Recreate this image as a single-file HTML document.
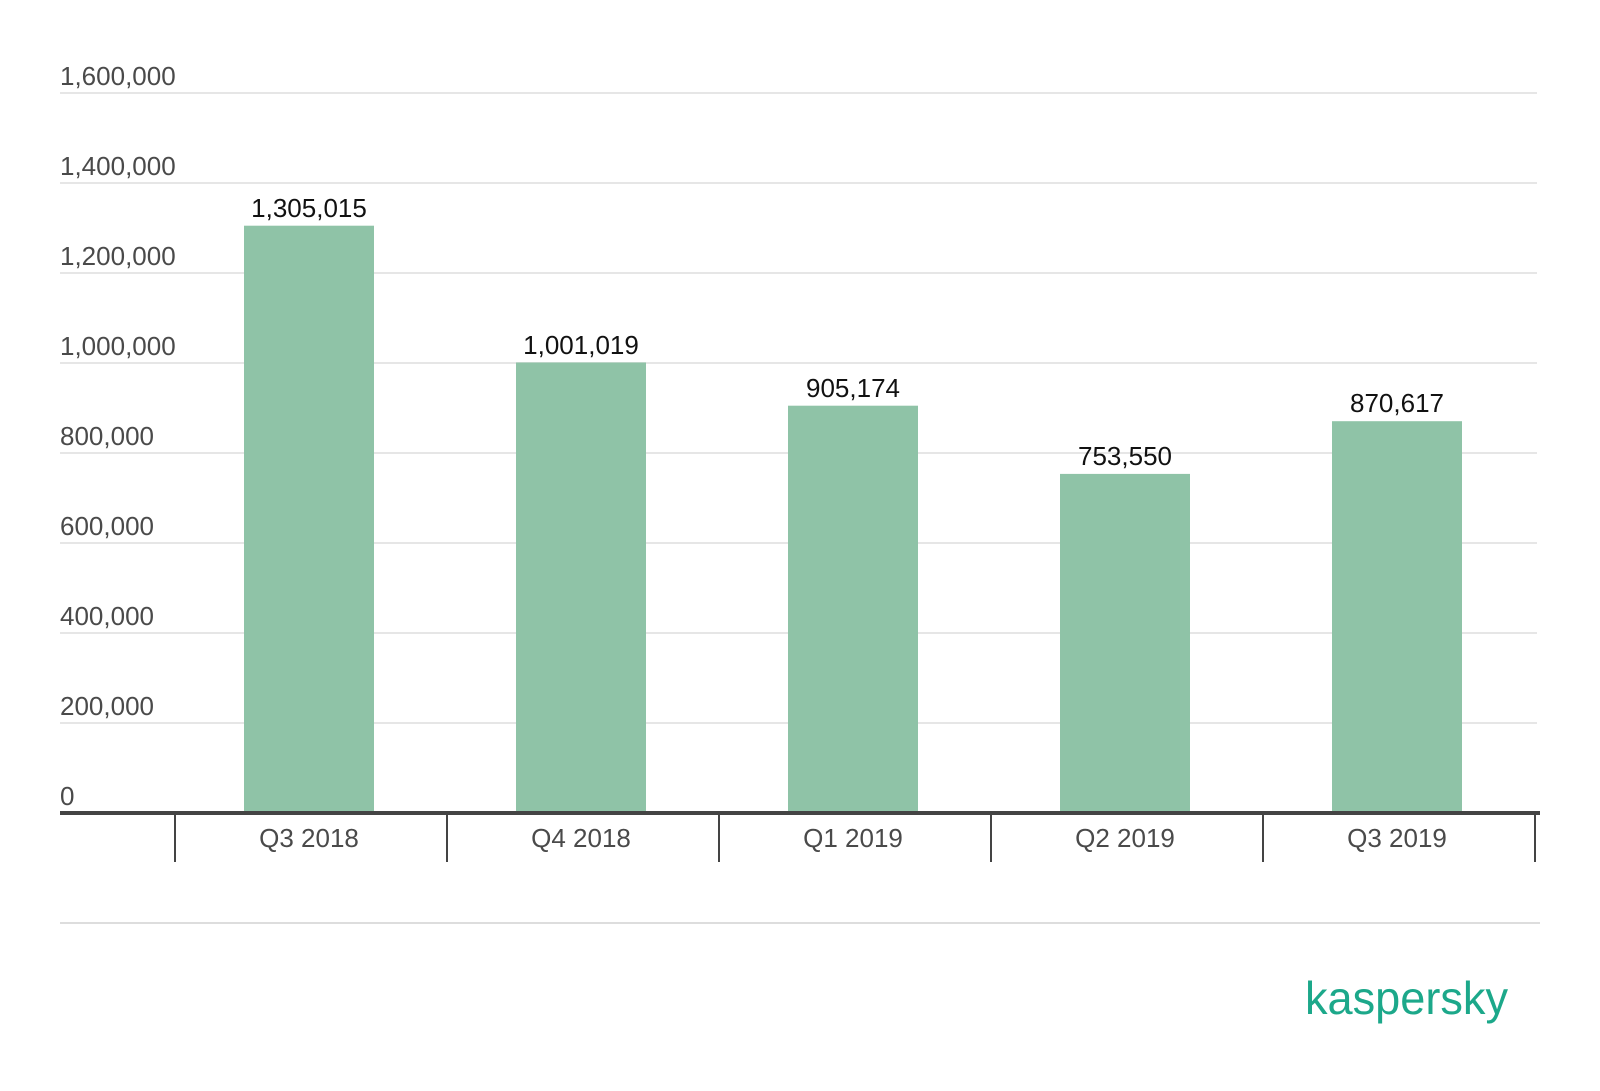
<!DOCTYPE html>
<html><head><meta charset="utf-8"><style>
body{margin:0;background:#fff;}
svg text{font-family:"Liberation Sans",Arial,sans-serif;}
</style></head><body>
<svg width="1600" height="1086" viewBox="0 0 1600 1086" xmlns="http://www.w3.org/2000/svg">
<g stroke="#e6e6e6" stroke-width="2">
<line x1="60" x2="1537" y1="93" y2="93"/><line x1="60" x2="1537" y1="183" y2="183"/>
<line x1="60" x2="1537" y1="273" y2="273"/><line x1="60" x2="1537" y1="363" y2="363"/>
<line x1="60" x2="1537" y1="453" y2="453"/><line x1="60" x2="1537" y1="543" y2="543"/>
<line x1="60" x2="1537" y1="633" y2="633"/><line x1="60" x2="1537" y1="723" y2="723"/>
</g>
<g fill="#4a4a4a" font-size="26">
<text x="60" y="85">1,600,000</text><text x="60" y="175">1,400,000</text>
<text x="60" y="265">1,200,000</text><text x="60" y="355">1,000,000</text>
<text x="60" y="445">800,000</text><text x="60" y="535">600,000</text>
<text x="60" y="625">400,000</text><text x="60" y="715">200,000</text>
<text x="60" y="805">0</text>
</g>
<g fill="#8fc3a7">
<rect x="244" y="225.7" width="130" height="587.3"/>
<rect x="516" y="362.5" width="130" height="450.5"/>
<rect x="788" y="405.7" width="130" height="407.3"/>
<rect x="1060" y="473.9" width="130" height="339.1"/>
<rect x="1332" y="421.2" width="130" height="391.8"/>
</g>
<g fill="#111" font-size="26" text-anchor="middle">
<text x="309" y="217">1,305,015</text><text x="581" y="354">1,001,019</text>
<text x="853" y="397">905,174</text><text x="1125" y="465">753,550</text>
<text x="1397" y="412">870,617</text>
</g>
<line x1="60" x2="1540" y1="813" y2="813" stroke="#444" stroke-width="4"/>
<g stroke="#444" stroke-width="2">
<line x1="175" x2="175" y1="813" y2="862"/><line x1="447" x2="447" y1="813" y2="862"/>
<line x1="719" x2="719" y1="813" y2="862"/><line x1="991" x2="991" y1="813" y2="862"/>
<line x1="1263" x2="1263" y1="813" y2="862"/><line x1="1535" x2="1535" y1="813" y2="862"/>
</g>
<g fill="#4a4a4a" font-size="26" text-anchor="middle">
<text x="309" y="847">Q3 2018</text><text x="581" y="847">Q4 2018</text>
<text x="853" y="847">Q1 2019</text><text x="1125" y="847">Q2 2019</text>
<text x="1397" y="847">Q3 2019</text>
</g>
<line x1="60" x2="1540" y1="923" y2="923" stroke="#ddd" stroke-width="2"/>
<text x="1305" y="1014" fill="#1ca88a" font-size="46" textLength="203" lengthAdjust="spacingAndGlyphs">kaspersky</text>
</svg>
</body></html>
